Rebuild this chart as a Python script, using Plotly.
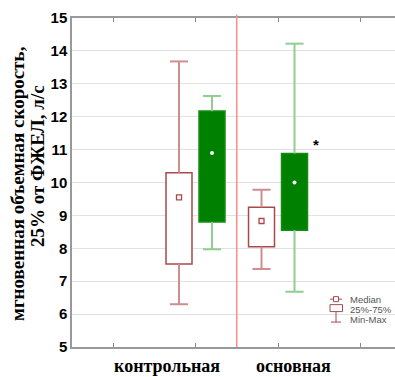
import plotly.graph_objects as go

# ---- data ----
categories = ["контрольная", "основная"]
group_centers = [1, 2]
# series A (white boxes)
min_a = [6.30, 7.37]
q1_a = [7.52, 8.05]
med_a = [9.55, 8.83]
q3_a = [10.30, 9.25]
max_a = [13.68, 9.78]
# series B (green boxes)
min_b = [7.97, 6.68]
q1_b = [8.80, 8.55]
med_b = [10.90, 10.00]
q3_b = [12.17, 10.88]
max_b = [12.63, 14.22]
y_ticks = [5, 6, 7, 8, 9, 10, 11, 12, 13, 14, 15]

# ---- style ----
OFFSET = 0.2
BOX_W = 0.315
CAP_HW = 0.11
RED_EDGE = "#a84a4a"
RED_WHISK = "#cf8e8e"
GREEN_FILL = "#008000"
GREEN_EDGE = "#148c14"
GREEN_WHISK = "#8fce8f"

fig = go.Figure()


def add_series(cent, mn, q1, md, q3, mx, fill, edge, whisk, med_marker):
    xs, ys = [], []
    for c, a, b, d, e in zip(cent, mn, q1, q3, mx):
        xs += [c, c, None, c - CAP_HW, c + CAP_HW, None, c, c, None, c - CAP_HW, c + CAP_HW, None]
        ys += [d, e, None, e, e, None, b, a, None, a, a, None]
    fig.add_trace(go.Scatter(x=xs, y=ys, mode="lines", line=dict(color=whisk, width=2),
                             showlegend=False, hoverinfo="skip"))
    fig.add_trace(go.Bar(x=cent, base=q1, y=[t - b for t, b in zip(q3, q1)], width=BOX_W,
                         marker=dict(color=fill, line=dict(color=edge, width=1.5)),
                         showlegend=False))
    fig.add_trace(go.Scatter(x=cent, y=md, mode="markers", marker=med_marker,
                             showlegend=False))


cent_a = [g - OFFSET for g in group_centers]
cent_b = [g + OFFSET for g in group_centers]
add_series(cent_a, min_a, q1_a, med_a, q3_a, max_a, "white", RED_EDGE, RED_WHISK,
           dict(symbol="square-open", size=5, color=RED_EDGE, line=dict(width=1.3, color=RED_EDGE)))
add_series(cent_b, min_b, q1_b, med_b, q3_b, max_b, GREEN_FILL, GREEN_EDGE, GREEN_WHISK,
           dict(symbol="circle", size=4, color="white"))

divider = sum(group_centers) / len(group_centers)
fig.add_shape(type="line", xref="x", yref="paper", x0=divider, x1=divider, y0=0, y1=1.01,
              line=dict(color="#ff8c8c", width=1.5), layer="above")

# plot-area pixel helper for legend decoration
L, R, T, B = 72, 395, 17.5, 347.5
def px(x):
    return (x - L) / (R - L)
def py(y):
    return (B - y) / (B - T)

legend_shapes = [
    dict(type="line", x0=px(330), x1=px(342), y0=py(299.5), y1=py(299.5), line=dict(color=RED_EDGE, width=1)),
    dict(type="rect", x0=px(333.5), x1=px(338.5), y0=py(297), y1=py(302), fillcolor="white", line=dict(color=RED_EDGE, width=1)),
    dict(type="rect", x0=px(330), x1=px(342.5), y0=py(305), y1=py(312), fillcolor="white", line=dict(color=RED_EDGE, width=1)),
    dict(type="line", x0=px(336), x1=px(336), y0=py(312), y1=py(322.5), line=dict(color=RED_EDGE, width=1)),
    dict(type="line", x0=px(331), x1=px(341), y0=py(322.5), y1=py(322.5), line=dict(color=RED_EDGE, width=1)),
]
for s in legend_shapes:
    fig.add_shape(xref="paper", yref="paper", **s)

legend_items = [("Median", 300), ("25%-75%", 310), ("Min-Max", 320)]
for txt, yy in legend_items:
    fig.add_annotation(xref="paper", yref="paper", x=px(348), y=py(yy), text=txt, showarrow=False,
                       xanchor="left", yanchor="middle", font=dict(family="Liberation Sans", size=9.5, color="#555555"))

# category labels
label_x = [0.66, 2.19]
for lab, lx in zip(categories, label_x):
    fig.add_annotation(xref="x", yref="paper", x=lx, y=py(367), text=lab, showarrow=False,
                       xanchor="center", yanchor="middle",
                       font=dict(family="Liberation Serif", size=18, color="black", weight="bold"))

# significance mark
fig.add_annotation(xref="x", yref="y", x=2.46, y=11.15, text="*", showarrow=False,
                   font=dict(family="Liberation Sans", size=15, color="black", weight="bold"))

# y axis title (two lines)
fig.add_annotation(xref="paper", yref="paper", x=px(18), y=py(184), text="мгновенная объемная скорость,",
                   textangle=-90, showarrow=False, xanchor="center", yanchor="middle",
                   font=dict(family="Liberation Serif", size=19, color="black", weight="bold"))
fig.add_annotation(xref="paper", yref="paper", x=px(37), y=py(166), text="25% от ФЖЕЛ, л/с",
                   textangle=-90, showarrow=False, xanchor="center", yanchor="middle",
                   font=dict(family="Liberation Serif", size=19, color="black", weight="bold"))

fig.update_layout(
    width=395, height=377,
    margin=dict(l=L, r=395 - R, t=T, b=377 - B),
    paper_bgcolor="white", plot_bgcolor="white",
    barmode="overlay", showlegend=False,
    xaxis=dict(range=[-0.497, 3.418], tickvals=[0, 1, 2, 3], showticklabels=False,
               ticks="inside", ticklen=4, tickcolor="#888888", showline=True, linecolor="#999999",
               linewidth=1.5, mirror="ticks", showgrid=False, zeroline=False, fixedrange=True),
    yaxis=dict(range=[5, 15], tickvals=y_ticks, showline=True, linecolor="#999999", linewidth=1.5,
               showgrid=True, gridcolor="#e2e2e2", gridwidth=1, zeroline=False, ticks="",
               tickfont=dict(family="Liberation Sans", size=15, color="black", weight="bold"),
               fixedrange=True),
)

fig.write_html("out.html")
